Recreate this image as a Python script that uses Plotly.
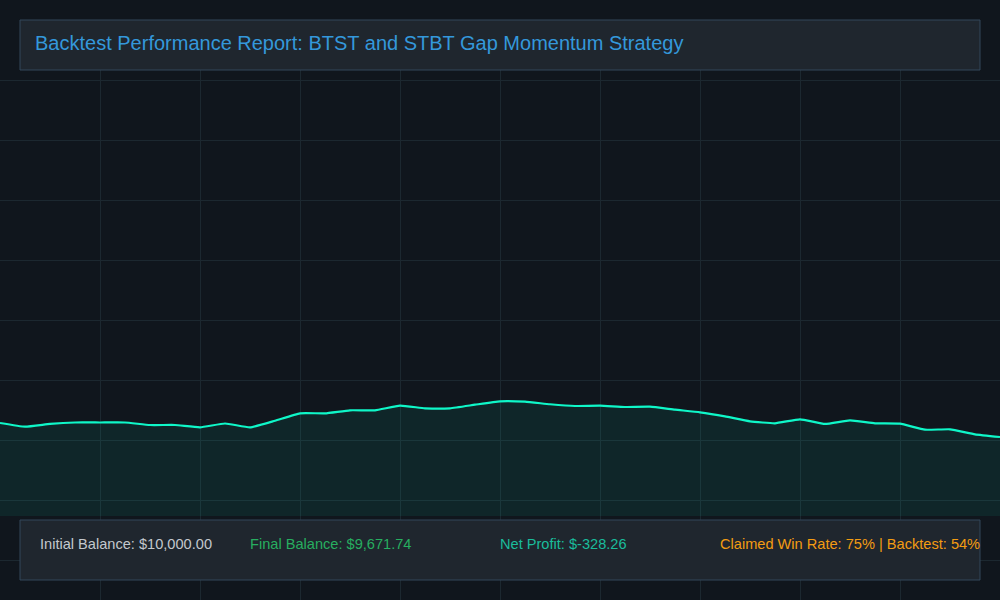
import plotly.graph_objects as go

# equity curve, one point per trade step
steps = list(range(41))
balance = [
    10000, 9913, 9977, 10012, 10012, 10012, 9953, 9953, 9899, 9988,
    9899, 10054, 10227, 10227, 10298, 10298, 10406, 10345, 10345, 10429,
    10509, 10499, 10439, 10399, 10406, 10375, 10382, 10312, 10251, 10157,
    10040, 9993, 10087, 9977, 10063, 9993, 9984, 9843, 9852, 9735,
    9671.74,
]

title_text = "Backtest Performance Report: BTST and STBT Gap Momentum Strategy"
stat_labels = [
    "Initial Balance: $10,000.00",
    "Final Balance: $9,671.74",
    "Net Profit: $-328.26",
    "Claimed Win Rate: 75% | Backtest: 54%",
]
stat_colors = ["#c3c8cd", "#27ae60", "#1abc9c", "#f39c12"]
stat_x = [38, 248, 498, 718]

W, H = 1000, 600
BG = "#10161d"
BOX = "#1f262e"
BORDER = "#33475b"
GRID = "#1c2830"

fig = go.Figure()

# empty trace so the page-grid axes get drawn
fig.add_trace(go.Scatter(x=[None], y=[None], xaxis="x", yaxis="y",
                         hoverinfo="skip", showlegend=False))

# equity line with soft fill
fig.add_trace(go.Scatter(
    x=steps, y=balance, xaxis="x2", yaxis="y2",
    mode="lines", line=dict(color="#0ff7c8", width=2.2, shape="spline", smoothing=0.4),
    fill="tozeroy", fillcolor="rgba(20,240,196,0.075)",
    hoverinfo="skip", showlegend=False,
))

fig.update_layout(
    width=W, height=H,
    margin=dict(l=0, r=0, t=0, b=0),
    paper_bgcolor=BG, plot_bgcolor="rgba(0,0,0,0)",
    font=dict(family="Liberation Sans, Arial, sans-serif"),
    # page grid
    xaxis=dict(domain=[0, 1], range=[0, W], tick0=0, dtick=100, showgrid=True,
               gridcolor=GRID, gridwidth=1, zeroline=False, showticklabels=False,
               ticks="", showline=False, fixedrange=True),
    yaxis=dict(domain=[0, 1 - 48 / H], range=[H, 48], tick0=20, dtick=60,
               showgrid=True, gridcolor=GRID, gridwidth=1, zeroline=False,
               showticklabels=False, ticks="", showline=False, fixedrange=True),
    # equity chart area
    xaxis2=dict(domain=[0, 1], range=[0, 40], anchor="y2", visible=False),
    yaxis2=dict(domain=[84 / H, 1], range=[7819, 19919], anchor="x2", visible=False),
)

# header and stats panels
fig.add_shape(type="rect", xref="paper", yref="paper",
              x0=20 / W, x1=980 / W, y0=1 - 70 / H, y1=1 - 20 / H,
              fillcolor=BOX, line=dict(color=BORDER, width=1), layer="above")
fig.add_shape(type="rect", xref="paper", yref="paper",
              x0=20 / W, x1=980 / W, y0=1 - 580 / H, y1=1 - 520 / H,
              fillcolor=BOX, line=dict(color=BORDER, width=1), layer="above")

fig.add_annotation(text=title_text, xref="paper", yref="paper",
                   x=33 / W, y=1 - 43 / H, xanchor="left", yanchor="middle",
                   showarrow=False, font=dict(size=20, color="#3498db"))

for label, color, px in zip(stat_labels, stat_colors, stat_x):
    fig.add_annotation(text=label, xref="paper", yref="paper",
                       x=px / W, y=1 - 544 / H, xanchor="left", yanchor="middle",
                       showarrow=False, font=dict(size=14.6, color=color))

fig.write_html("out.html", config={"displayModeBar": False},
               post_script="document.body.style.margin='0';")
